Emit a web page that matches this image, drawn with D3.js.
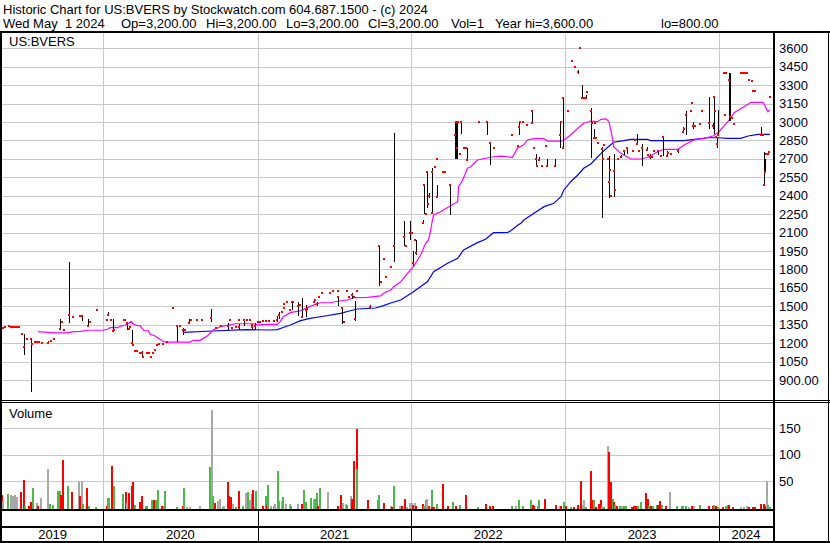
<!DOCTYPE html>
<html>
<head>
<meta charset="utf-8">
<script src="https://cdn.jsdelivr.net/npm/d3@7"></script>
<style>
  html, body { margin: 0; padding: 0; background: #fff; }
  svg { display: block; font-family: "Liberation Sans", Arial, sans-serif; }
</style>
</head>
<body>
<svg width="830" height="543"></svg>
<script>
// date, high, low, close
const priceBars = [
  ["2019-05-03",1320,1320,1320],["2019-05-08",1325,1325,1325],["2019-05-13",1330,1330,1330],
  ["2019-05-22",1345,1335,1340],["2019-05-27",1334,1334,1334],["2019-06-01",1334,1334,1334],
  ["2019-06-05",1334,1334,1334],["2019-06-10",1334,1334,1334],["2019-06-15",1334,1334,1334],
  ["2019-06-22",1275,1275,1275],["2019-06-27",1275,1105,1165],["2019-07-04",1234,1234,1234],
  ["2019-07-14",1234,800,1234],["2019-07-16",1193,1193,1193],["2019-07-23",1210,1210,1210],
  ["2019-07-28",1212,1212,1212],["2019-08-02",1210,1210,1210],["2019-08-09",1205,1205,1205],
  ["2019-08-23",1220,1195,1200],["2019-08-30",1220,1220,1220],["2019-09-06",1234,1234,1234],
  ["2019-09-21",1395,1315,1315],["2019-09-25",1372,1372,1372],["2019-09-30",1307,1307,1307],
  ["2019-10-12",1863,1366,1429],["2019-10-21",1413,1413,1413],["2019-11-07",1421,1421,1421],
  ["2019-11-12",1430,1380,1420],["2019-11-26",1395,1340,1340],["2019-12-01",1372,1372,1372],
  ["2019-12-17",1470,1470,1470],
  ["2020-01-10",1388,1388,1388],["2020-01-13",1450,1420,1432],["2020-01-20",1388,1388,1388],
  ["2020-01-25",1395,1290,1300],["2020-01-27",1310,1310,1310],["2020-02-20",1388,1388,1388],
  ["2020-02-22",1388,1388,1388],["2020-02-27",1370,1310,1366],["2020-03-03",1315,1315,1315],
  ["2020-03-05",1331,1331,1331],["2020-03-10",1307,1200,1200],["2020-03-12",1185,1185,1185],
  ["2020-03-17",1138,1138,1138],["2020-03-22",1138,1138,1138],["2020-03-29",1122,1122,1122],
  ["2020-04-02",1140,1090,1120],["2020-04-05",1090,1090,1090],["2020-04-14",1122,1122,1122],
  ["2020-04-19",1122,1122,1122],["2020-04-24",1090,1090,1090],["2020-04-28",1122,1122,1122],
  ["2020-05-03",1144,1144,1144],["2020-05-08",1185,1185,1185],["2020-05-13",1190,1190,1190],
  ["2020-05-22",1193,1193,1193],["2020-06-01",1210,1210,1210],["2020-06-15",1489,1489,1489],
  ["2020-06-25",1340,1210,1340],["2020-06-30",1340,1340,1340],["2020-07-09",1320,1270,1307],
  ["2020-07-14",1307,1307,1307],["2020-07-23",1395,1360,1366],["2020-07-28",1388,1388,1388],
  ["2020-08-11",1388,1388,1388],["2020-08-23",1388,1388,1388],["2020-09-13",1480,1375,1407],
  ["2020-09-25",1326,1326,1326],["2020-10-07",1342,1342,1342],["2020-10-24",1360,1310,1342],
  ["2020-10-28",1388,1388,1388],["2020-11-02",1320,1320,1320],["2020-11-12",1330,1330,1330],
  ["2020-11-17",1388,1388,1388],["2020-11-19",1355,1307,1330],["2020-12-01",1388,1340,1388],
  ["2020-12-08",1388,1388,1388],["2020-12-15",1388,1388,1388],["2020-12-18",1345,1345,1345],
  ["2020-12-20",1350,1310,1330],["2020-12-27",1360,1310,1340],
  ["2021-01-02",1372,1372,1372],["2021-01-08",1372,1372,1372],["2021-01-15",1380,1380,1380],
  ["2021-01-22",1380,1380,1380],["2021-01-29",1380,1380,1380],["2021-02-10",1380,1380,1380],
  ["2021-02-17",1420,1370,1390],["2021-02-22",1455,1400,1429],["2021-03-01",1456,1456,1456],
  ["2021-03-04",1483,1483,1483],["2021-03-06",1516,1516,1516],["2021-03-13",1537,1537,1537],
  ["2021-03-20",1470,1470,1470],["2021-03-25",1537,1470,1537],["2021-03-27",1537,1537,1537],
  ["2021-04-08",1537,1420,1500],["2021-04-13",1510,1510,1510],["2021-04-17",1565,1415,1415],
  ["2021-04-25",1510,1415,1470],["2021-04-29",1480,1480,1480],["2021-05-14",1537,1537,1537],
  ["2021-05-18",1550,1550,1550],["2021-05-23",1537,1500,1520],["2021-05-28",1578,1578,1578],
  ["2021-06-02",1610,1610,1610],["2021-06-23",1610,1610,1610],["2021-06-30",1627,1627,1627],
  ["2021-07-10",1580,1500,1575],["2021-07-12",1627,1627,1627],["2021-07-21",1497,1356,1490],
  ["2021-07-26",1370,1370,1370],["2021-08-02",1627,1627,1627],["2021-08-05",1578,1578,1578],
  ["2021-08-14",1610,1560,1590],["2021-08-17",1578,1578,1578],["2021-08-21",1540,1380,1395],
  ["2021-08-26",1627,1627,1627],["2021-09-24",1510,1490,1497],["2021-10-17",2000,1668,1993],
  ["2021-10-22",1695,1695,1695],["2021-10-27",1885,1885,1885],["2021-11-01",1741,1741,1741],
  ["2021-11-13",1822,1822,1822],["2021-11-20",2908,1863,1993],["2021-12-14",2197,1990,2066],
  ["2021-12-19",1993,1993,1993],["2021-12-28",2197,2040,2094],
  ["2022-01-03",2094,2094,2094],["2022-01-04",1950,1830,1855],["2022-01-09",2040,2040,2040],
  ["2022-01-13",2040,1920,1930],["2022-01-28",2200,2175,2175],["2022-02-01",2487,2249,2487],
  ["2022-02-04",2251,2251,2251],["2022-02-08",2601,2300,2596],["2022-02-10",2333,2333,2333],
  ["2022-02-13",2420,2380,2400],["2022-02-18",2623,2250,2260],["2022-02-20",2596,2596,2596],
  ["2022-02-25",2631,2631,2631],["2022-03-02",2487,2392,2392],["2022-03-04",2696,2690,2696],
  ["2022-03-18",2596,2596,2596],["2022-03-23",2596,2596,2596],["2022-04-02",2487,2243,2487],
  ["2022-04-14",2998,2700,2894],["2022-04-16",2998,2696,2998],["2022-04-19",2998,2696,2791],
  ["2022-04-21",2998,2998,2998],["2022-04-26",2742,2742,2742],["2022-04-28",2998,2900,2998],
  ["2022-05-05",2791,2791,2791],["2022-05-10",2791,2791,2791],["2022-05-12",2791,2691,2691],
  ["2022-06-10",2998,2998,2998],["2022-06-29",2998,2894,2998],["2022-07-06",2835,2650,2832],
  ["2022-07-15",2791,2791,2791],["2022-08-29",2894,2894,2894],["2022-09-10",2805,2805,2805],
  ["2022-09-13",2998,2894,2960],["2022-09-15",2998,2998,2998],["2022-09-24",2998,2998,2998],
  ["2022-10-02",2976,2976,2976],["2022-10-14",3098,2994,3092],["2022-10-15",2994,2994,2994],
  ["2022-10-18",2791,2791,2791],["2022-10-23",2740,2644,2696],["2022-10-25",2644,2644,2644],
  ["2022-10-30",2715,2680,2690],["2022-11-06",2644,2644,2644],["2022-11-16",2805,2805,2805],
  ["2022-11-18",2700,2644,2644],["2022-12-07",2700,2644,2644],["2022-12-19",2998,2791,2894],
  ["2022-12-22",2998,2998,2998],["2022-12-26",3201,2791,3198],["2022-12-27",2791,2791,2791],
  ["2023-01-07",3092,3092,3092],["2023-01-17",3499,3499,3499],["2023-01-24",3450,3450,3450],
  ["2023-02-01",3420,3390,3404],["2023-02-04",3600,3600,3600],["2023-02-10",3300,3198,3198],
  ["2023-02-14",3198,3198,3198],["2023-02-19",3220,3198,3198],["2023-02-21",3247,3247,3247],
  ["2023-03-03",3114,2707,3092],["2023-03-05",2994,2994,2994],["2023-03-10",2940,2872,2872],
  ["2023-03-13",2994,2994,2994],["2023-03-15",2872,2872,2872],["2023-03-20",2832,2832,2832],
  ["2023-03-29",2799,2216,2780],["2023-03-31",2696,2696,2696],["2023-04-03",2810,2810,2810],
  ["2023-04-12",2696,2696,2696],["2023-04-15",2723,2379,2514],["2023-04-17",2610,2610,2610],
  ["2023-04-20",2400,2400,2400],["2023-04-27",2740,2390,2600],["2023-04-29",2450,2450,2450],
  ["2023-05-06",2696,2696,2696],["2023-05-13",2730,2710,2712],["2023-05-20",2770,2730,2767],
  ["2023-05-27",2800,2740,2790],["2023-06-11",2767,2767,2767],["2023-06-16",2854,2854,2854],
  ["2023-06-21",2900,2820,2820],["2023-06-26",2767,2767,2767],["2023-07-03",2821,2642,2790],
  ["2023-07-15",2800,2765,2770],["2023-07-17",2735,2735,2735],["2023-07-22",2740,2700,2712],
  ["2023-07-26",2712,2712,2712],["2023-07-31",2767,2767,2767],["2023-08-09",2775,2730,2767],
  ["2023-08-17",2725,2725,2725],["2023-08-21",2880,2725,2880],["2023-08-31",2760,2720,2725],
  ["2023-09-02",2745,2745,2745],["2023-09-09",2740,2740,2740],["2023-09-26",2780,2750,2767],
  ["2023-10-08",2960,2921,2921],["2023-10-10",2940,2940,2940],["2023-10-15",3092,2894,3057],
  ["2023-10-27",3092,3092,3092],["2023-10-29",3152,3152,3152],["2023-11-01",3000,2941,2968],
  ["2023-11-05",2968,2968,2968],["2023-11-17",2984,2984,2984],["2023-11-22",3092,3092,3092],
  ["2023-12-08",3201,2941,2994],["2023-12-18",2995,2941,2968],["2023-12-20",3201,2900,3201],
  ["2023-12-22",3092,3092,3092],["2023-12-25",2880,2880,2880],["2023-12-27",2870,2790,2821],
  ["2023-12-29",3100,2894,2894],
  ["2024-01-13",3396,3396,3396],["2024-01-15",3057,3057,3057],["2024-01-18",3396,3396,3396],
  ["2024-01-25",3396,3008,3342],["2024-01-27",3396,3008,3044],["2024-02-01",3030,3030,3030],
  ["2024-02-06",2984,2984,2984],["2024-02-22",3396,3396,3396],["2024-02-27",3396,3396,3396],
  ["2024-03-03",3396,3396,3396],["2024-03-08",3396,3396,3396],["2024-03-12",3342,3342,3342],
  ["2024-03-19",3330,3330,3330],["2024-03-22",3255,3255,3255],["2024-03-27",3250,3250,3250],
  ["2024-04-10",2960,2894,2894],["2024-04-15",2894,2894,2894],["2024-04-17",2758,2487,2487],
  ["2024-04-19",2696,2596,2596],["2024-04-22",2740,2740,2740],["2024-04-26",2740,2740,2740],
  ["2024-04-29",2758,2758,2758],["2024-05-01",3200,3200,3200]
];

// short moving average (magenta)
const maShort = [
  ["2019-07-30",1296],["2019-08-04",1291],["2019-09-09",1283],["2019-10-07",1283],["2019-10-19",1291],
  ["2019-11-07",1296],["2019-11-26",1305],["2020-01-01",1305],["2020-01-13",1315],["2020-01-17",1326],
  ["2020-02-05",1326],["2020-02-10",1337],["2020-02-22",1348],["2020-02-27",1353],["2020-03-07",1378],
  ["2020-03-12",1356],["2020-03-22",1342],["2020-03-29",1342],["2020-04-02",1321],["2020-04-07",1301],
  ["2020-04-17",1301],["2020-04-21",1274],["2020-05-03",1258],["2020-05-10",1242],["2020-05-20",1220],
  ["2020-05-27",1209],["2020-07-25",1209],["2020-08-02",1223],["2020-08-18",1223],["2020-09-04",1258],
  ["2020-09-18",1307],["2020-10-05",1334],["2020-10-28",1348],["2020-11-09",1358],["2020-12-22",1358],
  ["2021-01-03",1348],["2021-01-24",1353],["2021-02-17",1353],["2021-02-24",1375],["2021-03-03",1415],
  ["2021-03-20",1448],["2021-04-13",1464],["2021-04-29",1489],["2021-05-14",1510],["2021-05-30",1529],
  ["2021-06-23",1529],["2021-07-10",1541],["2021-08-02",1551],["2021-08-17",1570],["2021-09-19",1573],
  ["2021-10-20",1584],["2021-10-27",1606],["2021-11-13",1633],["2021-11-20",1660],["2021-12-07",1700],
  ["2021-12-23",1768],["2022-01-06",1822],["2022-01-23",1917],["2022-02-04",2013],["2022-02-11",2040],
  ["2022-02-16",2121],["2022-02-20",2202],["2022-02-23",2243],["2022-03-11",2270],["2022-04-04",2319],
  ["2022-04-21",2351],["2022-04-23",2473],["2022-05-03",2528],["2022-05-14",2623],["2022-05-22",2636],
  ["2022-06-07",2691],["2022-07-08",2713],["2022-08-01",2723],["2022-08-29",2713],["2022-09-10",2788],
  ["2022-09-24",2813],["2022-10-04",2854],["2022-10-18",2864],["2022-11-11",2864],["2022-11-21",2845],
  ["2022-12-22",2845],["2022-12-29",2854],["2023-01-14",2894],["2023-01-31",2949],["2023-02-14",2990],
  ["2023-03-03",3008],["2023-03-19",3003],["2023-03-27",3022],["2023-04-08",3025],["2023-04-15",3003],
  ["2023-04-24",2854],["2023-04-26",2799],["2023-05-13",2745],["2023-06-06",2699],["2023-06-30",2699],
  ["2023-07-16",2713],["2023-08-09",2758],["2023-08-23",2778],["2023-09-26",2778],["2023-10-10",2813],
  ["2023-11-03",2854],["2023-11-26",2867],["2023-12-18",2886],["2024-01-01",2921],["2024-01-22",3003],
  ["2024-02-06",3076],["2024-02-29",3125],["2024-03-17",3160],["2024-04-15",3160],["2024-04-22",3112],
  ["2024-04-26",3084],["2024-05-01",3098]
];

// long moving average (blue)
const maLong = [
  ["2020-07-09",1288],["2020-09-16",1299],["2020-12-03",1310],["2021-01-31",1307],["2021-02-17",1310],
  ["2021-03-03",1327],["2021-03-20",1348],["2021-04-13",1383],["2021-05-06",1402],["2021-05-30",1415],
  ["2021-07-17",1443],["2021-08-09",1464],["2021-08-26",1478],["2021-10-08",1486],["2021-10-27",1505],
  ["2021-11-13",1527],["2021-12-07",1551],["2022-01-06",1619],["2022-02-08",1700],["2022-02-23",1782],
  ["2022-03-28",1850],["2022-04-21",1891],["2022-05-05",1958],["2022-06-07",2018],["2022-06-26",2045],
  ["2022-07-15",2099],["2022-08-18",2102],["2022-08-25",2115],["2022-09-11",2162],["2022-09-18",2176],
  ["2022-09-25",2202],["2022-10-19",2257],["2022-11-12",2311],["2022-12-05",2338],["2022-12-22",2392],
  ["2022-12-29",2447],["2023-01-14",2514],["2023-01-31",2569],["2023-02-14",2623],["2023-03-03",2658],
  ["2023-03-27",2745],["2023-04-12",2794],["2023-04-26",2835],["2023-05-20",2848],["2023-06-06",2859],
  ["2023-07-16",2859],["2023-07-23",2848],["2023-10-10",2848],["2023-11-03",2859],["2023-12-06",2872],
  ["2023-12-30",2872],["2024-01-22",2867],["2024-02-22",2867],["2024-03-10",2886],["2024-04-03",2900],
  ["2024-05-01",2900]
];

// date, volume, direction (u = up, d = down, n = unchanged)
const volumeBars = [
  ["2019-05-05",24,"d"],["2019-05-08",13,"n"],["2019-05-20",26,"u"],["2019-05-27",23,"n"],["2019-06-01",22,"n"],
  ["2019-06-06",24,"n"],["2019-06-10",20,"n"],["2019-06-20",29,"d"],["2019-06-27",53,"d"],["2019-06-29",2,"u"],
  ["2019-07-09",3,"d"],["2019-07-14",11,"d"],["2019-07-18",36,"u"],["2019-07-28",8,"n"],["2019-07-30",2,"d"],
  ["2019-08-06",18,"n"],["2019-08-23",72,"n"],["2019-08-28",6,"u"],["2019-09-04",4,"u"],["2019-09-16",32,"u"],
  ["2019-09-21",31,"u"],["2019-09-23",24,"d"],["2019-09-28",90,"d"],["2019-10-10",41,"u"],["2019-10-19",29,"d"],
  ["2019-11-05",48,"n"],["2019-11-07",21,"d"],["2019-11-12",51,"n"],["2019-11-14",6,"u"],["2019-11-24",37,"d"],
  ["2019-11-29",2,"u"],["2019-12-15",1,"u"],
  ["2020-01-10",2,"d"],["2020-01-13",18,"u"],["2020-01-15",18,"u"],["2020-01-22",78,"d"],["2020-01-27",40,"u"],
  ["2020-02-17",25,"u"],["2020-02-24",30,"d"],["2020-02-27",8,"n"],["2020-03-03",27,"d"],["2020-03-10",41,"d"],
  ["2020-03-12",48,"d"],["2020-03-17",4,"u"],["2020-03-29",10,"d"],["2020-04-02",21,"d"],["2020-04-12",2,"u"],
  ["2020-04-14",2,"u"],["2020-04-26",15,"u"],["2020-05-01",14,"d"],["2020-05-06",15,"u"],["2020-05-10",34,"u"],
  ["2020-05-20",3,"d"],["2020-05-25",3,"u"],["2020-05-27",32,"u"],["2020-06-25",1,"u"],["2020-07-09",3,"d"],
  ["2020-07-11",37,"u"],["2020-07-18",1,"n"],["2020-07-25",1,"n"],["2020-08-18",3,"n"],["2020-09-11",76,"u"],
  ["2020-09-16",185,"n"],["2020-09-18",21,"u"],["2020-09-23",8,"d"],["2020-09-30",13,"n"],["2020-10-05",17,"n"],
  ["2020-10-10",1,"u"],["2020-10-14",3,"n"],["2020-10-24",48,"d"],["2020-10-26",22,"d"],["2020-10-31",20,"d"],
  ["2020-11-05",7,"n"],["2020-11-12",1,"u"],["2020-11-19",32,"d"],["2020-11-28",3,"u"],["2020-12-05",28,"n"],
  ["2020-12-10",30,"u"],["2020-12-15",14,"n"],["2020-12-19",25,"u"],["2020-12-22",34,"d"],["2020-12-27",1,"n"],
  ["2020-12-29",32,"u"],
  ["2021-01-15",3,"d"],["2021-01-20",22,"u"],["2021-01-24",5,"d"],["2021-01-27",42,"u"],["2021-02-03",2,"n"],
  ["2021-02-08",3,"u"],["2021-02-12",7,"n"],["2021-02-19",69,"u"],["2021-02-22",13,"u"],["2021-02-27",12,"n"],
  ["2021-03-03",19,"u"],["2021-03-10",7,"n"],["2021-03-18",7,"n"],["2021-03-22",2,"u"],["2021-04-08",6,"n"],
  ["2021-04-17",7,"d"],["2021-04-22",34,"u"],["2021-04-27",10,"u"],["2021-05-09",18,"u"],["2021-05-14",16,"n"],
  ["2021-05-18",17,"u"],["2021-05-23",27,"u"],["2021-05-25",2,"d"],["2021-05-30",37,"u"],["2021-06-18",29,"n"],
  ["2021-07-10",3,"d"],["2021-07-19",23,"d"],["2021-07-24",8,"n"],["2021-07-29",6,"n"],["2021-08-02",4,"u"],
  ["2021-08-12",21,"n"],["2021-08-14",16,"d"],["2021-08-17",37,"d"],["2021-08-19",88,"d"],["2021-08-24",148,"d"],
  ["2021-08-26",72,"u"],["2021-09-19",14,"d"],["2021-10-15",14,"u"],["2021-10-17",23,"u"],["2021-10-27",8,"d"],
  ["2021-11-13",3,"n"],["2021-11-15",1,"d"],["2021-11-20",40,"u"],["2021-12-04",3,"n"],["2021-12-09",3,"d"],
  ["2021-12-16",17,"d"],["2021-12-21",1,"n"],["2021-12-28",8,"n"],
  ["2022-01-03",8,"n"],["2022-01-04",5,"d"],["2022-01-09",8,"n"],["2022-01-11",2,"d"],["2022-01-28",7,"d"],
  ["2022-01-30",3,"u"],["2022-02-04",14,"u"],["2022-02-08",17,"n"],["2022-02-11",2,"d"],["2022-02-18",34,"u"],
  ["2022-02-20",1,"d"],["2022-02-23",1,"d"],["2022-03-02",7,"u"],["2022-03-16",44,"d"],["2022-03-30",3,"d"],
  ["2022-04-11",10,"u"],["2022-04-18",3,"d"],["2022-04-26",4,"u"],["2022-05-10",23,"d"],["2022-06-07",1,"u"],
  ["2022-06-26",7,"d"],["2022-07-06",3,"d"],["2022-07-13",2,"d"],["2022-08-27",3,"u"],["2022-09-06",3,"n"],
  ["2022-09-13",15,"u"],["2022-09-22",2,"u"],["2022-10-11",14,"u"],["2022-10-16",5,"d"],["2022-10-19",3,"d"],
  ["2022-10-28",2,"u"],["2022-10-30",14,"u"],["2022-11-14",17,"d"],["2022-12-10",4,"d"],["2022-12-19",3,"n"],
  ["2022-12-22",3,"d"],["2022-12-29",11,"u"],
  ["2023-01-02",3,"d"],["2023-01-14",1,"u"],["2023-01-21",1,"d"],["2023-01-31",5,"d"],["2023-02-07",51,"d"],
  ["2023-02-12",4,"n"],["2023-02-14",14,"n"],["2023-02-19",1,"u"],["2023-03-03",70,"d"],["2023-03-08",15,"d"],
  ["2023-03-10",14,"u"],["2023-03-15",1,"d"],["2023-03-22",7,"d"],["2023-03-27",14,"d"],["2023-03-29",3,"n"],
  ["2023-04-03",1,"u"],["2023-04-12",116,"n"],["2023-04-15",105,"d"],["2023-04-19",48,"d"],["2023-04-24",17,"u"],
  ["2023-04-26",10,"d"],["2023-04-29",5,"u"],["2023-05-04",3,"d"],["2023-05-11",3,"u"],["2023-05-15",2,"n"],
  ["2023-05-20",3,"u"],["2023-05-25",2,"u"],["2023-06-08",1,"d"],["2023-06-13",2,"d"],["2023-06-18",2,"d"],
  ["2023-06-22",2,"u"],["2023-06-30",11,"u"],["2023-07-11",27,"d"],["2023-07-16",17,"d"],["2023-07-19",3,"u"],
  ["2023-07-23",3,"d"],["2023-07-28",2,"u"],["2023-08-07",5,"u"],["2023-08-09",4,"d"],["2023-08-14",13,"d"],
  ["2023-08-18",5,"u"],["2023-08-28",3,"d"],["2023-09-06",29,"n"],["2023-09-23",2,"u"],["2023-10-05",2,"u"],
  ["2023-10-07",2,"u"],["2023-10-15",3,"u"],["2023-10-22",1,"n"],["2023-10-29",3,"d"],["2023-11-03",2,"n"],
  ["2023-11-17",4,"u"],["2023-12-08",2,"d"],["2023-12-18",3,"d"],["2023-12-20",4,"u"],["2023-12-26",2,"d"],
  ["2023-12-29",1,"u"],
  ["2024-01-11",1,"d"],["2024-01-18",2,"u"],["2024-01-22",4,"u"],["2024-01-25",4,"d"],["2024-02-03",1,"d"],
  ["2024-02-22",1,"n"],["2024-02-29",1,"n"],["2024-03-08",3,"n"],["2024-03-12",1,"d"],["2024-03-22",1,"d"],
  ["2024-03-27",1,"d"],["2024-04-10",7,"d"],["2024-04-17",7,"d"],["2024-04-19",2,"d"],["2024-04-24",50,"n"],
  ["2024-04-26",4,"u"],["2024-04-30",1,"u"]
];

const priceTicks = [3600, 3450, 3300, 3150, 3000, 2850, 2700, 2550, 2400, 2250, 2100, 1950, 1800, 1650, 1500, 1350, 1200, 1050, 900];
const volumeTicks = [150, 100, 50];
const titleText = "Historic Chart for US:BVERS by Stockwatch.com 604.687.1500 - (c) 2024";
const quoteParts = [
  ["Wed May  1 2024", 3], ["Op=3,200.00", 121], ["Hi=3,200.00", 206], ["Lo=3,200.00", 286],
  ["Cl=3,200.00", 368], ["Vol=1", 451], ["Year hi=3,600.00", 495], ["lo=800.00", 661]
];

const svg = d3.select("svg");
const W = 830, H = 543;
const plotL = 2, plotR = 773;
const priceTop = 33, priceBottom = 400;
const volTop = 403, volBottom = 509;
const gridColor = "#c8c8c8";
const volColor = { u: "#4cb84c", d: "#ff0000", n: "#a8a8a8" };

const parse = d3.utcParse("%Y-%m-%d");
const x = d3.scaleUtc().domain([parse("2019-05-01"), parse("2024-05-01")]).range([0, 770]);
const y = d3.scaleLinear().domain([900, 3600]).range([380, 48.3]);
const yv = d3.scaleLinear().domain([0, 150]).range([507.5, 428.3]);
const px = (d) => Math.round(x(parse(d))) + 0.5;

svg.append("rect").attr("width", W).attr("height", H).attr("fill", "#fff");

const defs = svg.append("defs");
defs.append("clipPath").attr("id", "clipPrice").append("rect")
  .attr("x", plotL).attr("y", priceTop).attr("width", plotR - plotL).attr("height", priceBottom - priceTop);
defs.append("clipPath").attr("id", "clipVol").append("rect")
  .attr("x", plotL).attr("y", volTop).attr("width", plotR - plotL).attr("height", volBottom - volTop);

// header
svg.append("text").attr("x", 3).attr("y", 13.5).attr("font-size", 13).attr("fill", "#000").text(titleText);
svg.append("g").selectAll("text").data(quoteParts).join("text")
  .attr("x", (d) => d[1]).attr("y", 27.5).attr("font-size", 13).attr("fill", "#000")
  .style("white-space", "pre").text((d) => d[0]);

const yearTicks = x.ticks(d3.utcYear.every(1)).filter((d) => d > x.domain()[0]);

// grids
const grid = svg.append("g").attr("stroke", gridColor).attr("stroke-width", 1);
grid.selectAll(".hp").data(priceTicks).join("line")
  .attr("x1", plotL).attr("x2", plotR)
  .attr("y1", (d) => Math.round(y(d)) + 0.5).attr("y2", (d) => Math.round(y(d)) + 0.5);
grid.selectAll(".hv").data(volumeTicks).join("line")
  .attr("x1", plotL).attr("x2", plotR)
  .attr("y1", (d) => Math.round(yv(d)) + 0.5).attr("y2", (d) => Math.round(yv(d)) + 0.5);
grid.selectAll(".vp").data(yearTicks).join("line")
  .attr("x1", (d) => Math.round(x(d)) + 0.5).attr("x2", (d) => Math.round(x(d)) + 0.5)
  .attr("y1", priceTop).attr("y2", priceBottom);
grid.selectAll(".vv").data(yearTicks).join("line")
  .attr("x1", (d) => Math.round(x(d)) + 0.5).attr("x2", (d) => Math.round(x(d)) + 0.5)
  .attr("y1", volTop).attr("y2", volBottom);

// price panel
const pg = svg.append("g").attr("clip-path", "url(#clipPrice)");
const line = d3.line().x((d) => x(parse(d[0]))).y((d) => y(d[1]));
pg.append("path").datum(maLong).attr("d", line)
  .attr("fill", "none").attr("stroke", "#0000ff").attr("stroke-width", 1.2);
pg.append("path").datum(maShort).attr("d", line)
  .attr("fill", "none").attr("stroke", "#ff00ff").attr("stroke-width", 1.2);

pg.append("g").selectAll("line").data(priceBars.filter((d) => d[1] > d[2])).join("line")
  .attr("x1", (d) => px(d[0])).attr("x2", (d) => px(d[0]))
  .attr("y1", (d) => Math.round(y(d[1]))).attr("y2", (d) => Math.round(y(d[2])))
  .attr("stroke", "#000").attr("stroke-width", 1);

pg.append("g").selectAll("rect").data(priceBars).join("rect")
  .attr("x", (d) => px(d[0]) - 1.5).attr("y", (d) => Math.round(y(d[3])) - 1)
  .attr("width", 2).attr("height", 2).attr("fill", "#ff0000");

pg.append("text").attr("x", 9).attr("y", 46).attr("font-size", 13).attr("fill", "#000").text("US:BVERS");

// volume panel
const vg = svg.append("g").attr("clip-path", "url(#clipVol)");
vg.selectAll("rect").data(volumeBars).join("rect")
  .attr("x", (d) => px(d[0]) - 1.5)
  .attr("y", (d) => Math.round(yv(d[1])))
  .attr("width", 2)
  .attr("height", (d) => volBottom - Math.round(yv(d[1])))
  .attr("fill", (d) => volColor[d[2]]);
svg.append("text").attr("x", 9).attr("y", 418).attr("font-size", 13).attr("fill", "#000").text("Volume");

// right axis labels
svg.append("g").selectAll("text").data(priceTicks).join("text")
  .attr("x", 779).attr("y", (d) => y(d) + 4.5).attr("font-size", 13).attr("fill", "#000020")
  .text((d) => (d === 900 ? "900.00" : d));
svg.append("g").selectAll("text").data(volumeTicks).join("text")
  .attr("x", 779).attr("y", (d) => yv(d) + 4.5).attr("font-size", 13).attr("fill", "#000020")
  .text((d) => d);

// frame
const frame = svg.append("g").attr("fill", "#000");
frame.append("rect").attr("x", 0).attr("y", 31).attr("width", W).attr("height", 2);
frame.append("rect").attr("x", 0).attr("y", 31).attr("width", 2).attr("height", H - 31);
frame.append("rect").attr("x", plotR).attr("y", 31).attr("width", 2).attr("height", H - 31);
frame.append("rect").attr("x", W - 2).attr("y", 31).attr("width", 1).attr("height", H - 31);
frame.append("rect").attr("x", 0).attr("y", priceBottom).attr("width", W).attr("height", 1);
frame.append("rect").attr("x", 0).attr("y", priceBottom + 2).attr("width", W).attr("height", 1);
frame.append("rect").attr("x", 0).attr("y", volBottom).attr("width", plotR).attr("height", 2);
frame.append("rect").attr("x", 0).attr("y", 526).attr("width", plotR).attr("height", 2);
frame.append("rect").attr("x", 0).attr("y", 541).attr("width", W).attr("height", 2);

// year separators and labels
svg.append("g").selectAll("line").data(yearTicks).join("line")
  .attr("x1", (d) => Math.round(x(d)) + 0.5).attr("x2", (d) => Math.round(x(d)) + 0.5)
  .attr("y1", volBottom + 2).attr("y2", 541)
  .attr("stroke", "#000").attr("stroke-width", 1);

const edges = [plotL, ...yearTicks.map((d) => x(d)), plotR];
const yearLabels = edges.slice(0, -1).map((e, i) => ({
  label: i === 0 ? d3.utcFormat("%Y")(x.domain()[0]) : d3.utcFormat("%Y")(yearTicks[i - 1]),
  cx: (e + edges[i + 1]) / 2
}));
svg.append("g").selectAll("text").data(yearLabels).join("text")
  .attr("x", (d) => d.cx).attr("y", 539).attr("text-anchor", "middle")
  .attr("font-size", 13).attr("fill", "#000").text((d) => d.label);
</script>
</body>
</html>
